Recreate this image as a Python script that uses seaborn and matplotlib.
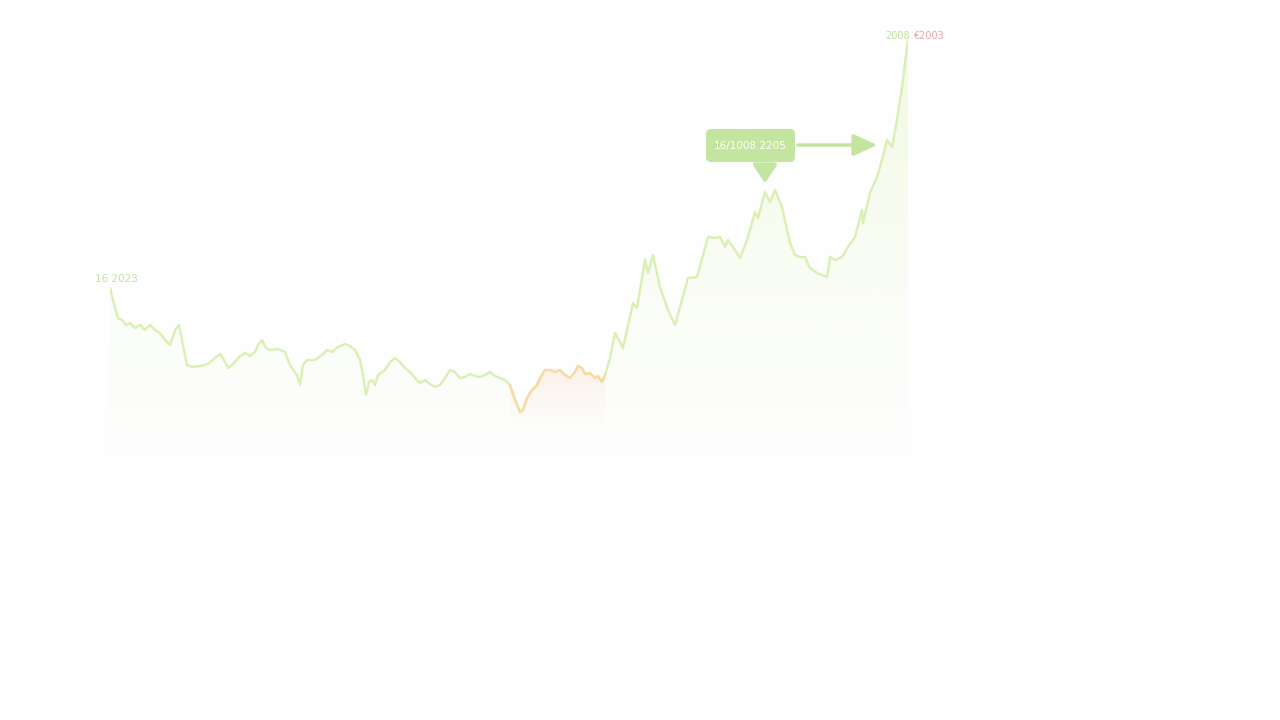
import numpy as np
import pandas as pd
import matplotlib
matplotlib.use("Agg")
import matplotlib.pyplot as plt
import seaborn as sns
from matplotlib.patches import FancyBboxPatch, Polygon

sns.set_theme(style="white")
plt.rcParams['font.family'] = ['DejaVu Sans']

# ---- data (day index, value) ----
days = [0, 3, 8, 12, 16, 20, 25, 30, 35, 40,
        45, 50, 55, 60, 65, 69, 73, 77, 82, 90,
        98, 105, 110, 114, 118, 123, 130, 135, 140, 145,
        148, 152, 156, 160, 168, 175, 180, 187, 190, 193,
        197, 205, 212, 217, 222, 228, 235, 240, 245, 250,
        253, 256, 259, 262, 265, 268, 275, 280, 285, 290,
        295, 300, 305, 310, 315, 320, 325, 330, 335, 340,
        345, 350, 355, 360, 365, 370, 375, 380, 385, 390,
        395, 400, 405, 410, 413, 417, 422, 427, 430, 435,
        440, 445, 450, 455, 460, 465, 468, 472, 475, 480,
        485, 488, 492, 495, 500, 505, 513, 523, 527, 535,
        538, 543, 550, 558, 565, 572, 578, 587, 598, 605,
        610, 615, 618, 623, 630, 637, 645, 648, 655, 660,
        665, 672, 680, 685, 690, 695, 700, 707, 712, 717,
        720, 725, 732, 738, 745, 752, 753, 760, 767, 772,
        777, 782, 787, 792, 797, 798]
values = [162, 150, 132, 130, 125, 127, 122, 125, 120, 125,
          120, 117, 110, 105, 120, 125, 105, 85, 83, 84,
          86, 92, 96, 90, 82, 86, 94, 97, 94, 98,
          105, 110, 102, 100, 101, 98, 85, 75, 65, 85,
          90, 90, 95, 100, 98, 103, 106, 104, 100, 90,
          75, 55, 68, 70, 65, 75, 80, 88, 92, 88,
          82, 78, 72, 67, 70, 66, 63, 65, 72, 80,
          78, 72, 73, 76, 74, 73, 75, 78, 74, 72,
          70, 65, 50, 38, 40, 52, 60, 65, 72, 80,
          80, 78, 80, 75, 72, 78, 84, 82, 76, 77,
          72, 74, 68, 75, 92, 117, 102, 147, 142, 190,
          177, 195, 163, 140, 125, 150, 172, 173, 213, 212,
          213, 203, 210, 203, 192, 210, 238, 232, 258, 248,
          260, 243, 207, 195, 193, 193, 182, 177, 175, 173,
          193, 190, 193, 203, 213, 240, 227, 257, 273, 290,
          310, 303, 330, 363, 403, 410]
orange_start, orange_end = 400, 495

# annotation texts
start_label = "16 2023"
end_label_a = "2008"
end_label_b = "€2003"
box_label = "16/1008.2205"

GREEN = "#d6f0a6"
LINE_GREEN = "#d8f0b2"
ORANGE = "#f9d9a4"
BOX = "#c4e5a0"
RED = "#eaa5a5"

df = pd.DataFrame({"day": days, "value": values})

fig = plt.figure(figsize=(12.8, 7.2), dpi=100)
fig.patch.set_facecolor("#fefefe")

# plot axes: day 0 -> x=110px, day 798 -> x=908px ; value 0 -> y=450px, 410 -> y=40px
x0, x1 = 110, 908
y0, y1 = 450, 40
ax = fig.add_axes([x0 / 1280, (720 - y0) / 720, (x1 - x0) / 1280, (y0 - y1) / 720])
ax.patch.set_alpha(0)

d = np.array(days, float)
v = np.array(values, float)

def grad_fill(mask, color, top_alpha, bottom=-40, z=1):
    xs = d[mask]; ys = v[mask]
    poly_pts = np.column_stack([np.r_[xs[0], xs, xs[-1]], np.r_[bottom, ys, bottom]])
    rgb = matplotlib.colors.to_rgb(color)
    n = 256
    img = np.zeros((n, 1, 4))
    img[:, 0, :3] = rgb
    img[:, 0, 3] = np.linspace(top_alpha, 0.0, n) ** 1.3
    im = ax.imshow(img, aspect="auto", extent=[xs[0], xs[-1], bottom, ys.max()],
                   origin="upper", zorder=z)
    poly = Polygon(poly_pts, closed=True, transform=ax.transData, fc="none", ec="none")
    ax.add_patch(poly)
    im.set_clip_path(poly)

grad_fill(np.ones(len(d), bool), GREEN, 0.40, bottom=-30, z=1)
om = (d >= orange_start) & (d <= orange_end)
grad_fill(om, "#fbd9c6", 0.45, bottom=20, z=2)

sns.lineplot(data=df, x="day", y="value", ax=ax, color=LINE_GREEN, lw=1.7, zorder=3,
             legend=False)
sns.lineplot(data=df[(df.day >= orange_start) & (df.day <= orange_end)], x="day", y="value",
             ax=ax, color=ORANGE, lw=1.7, zorder=4, legend=False)
ax.set_xlim(0, 798)
ax.set_ylim(0, 410)
ax.axis("off")

# labels
ax.annotate(start_label, (days[0], values[0]), xytext=(-11, 3), textcoords="offset points",
            fontsize=7.5, color="#c2e5a0", ha="left", va="bottom", annotation_clip=False)
ax.annotate(end_label_a, (days[-1], values[-1]), xytext=(-7.5, 3), textcoords="offset points",
            fontsize=7, color="#bfe29e", ha="center", va="center", annotation_clip=False)
ax.annotate(end_label_b, (days[-1], values[-1]), xytext=(15, 3), textcoords="offset points",
            fontsize=7, color=RED, ha="center", va="center", annotation_clip=False)

# callout box and arrows (figure pixel overlay)
bg2 = fig.add_axes([0, 0, 1, 1]); bg2.set_xlim(0, 1280); bg2.set_ylim(720, 0); bg2.axis("off")
bg2.patch.set_alpha(0)
bg2.add_patch(FancyBboxPatch((706, 129), 89, 33, boxstyle="round,pad=0,rounding_size=5",
                             fc=BOX, ec="none", zorder=5))
bg2.text(750.5, 146, box_label, color="white", fontsize=7.5, ha="center", va="center", zorder=6)
bg2.annotate("", xy=(880, 145), xytext=(795, 145),
             arrowprops=dict(arrowstyle="-|>,head_length=1.2,head_width=0.55", color=BOX, lw=2.5))
bg2.annotate("", xy=(765, 186), xytext=(765, 162),
             arrowprops=dict(arrowstyle="-|>,head_length=0.9,head_width=0.6", color=BOX, lw=3))

fig.savefig("out.png", dpi=100, facecolor=fig.get_facecolor())
